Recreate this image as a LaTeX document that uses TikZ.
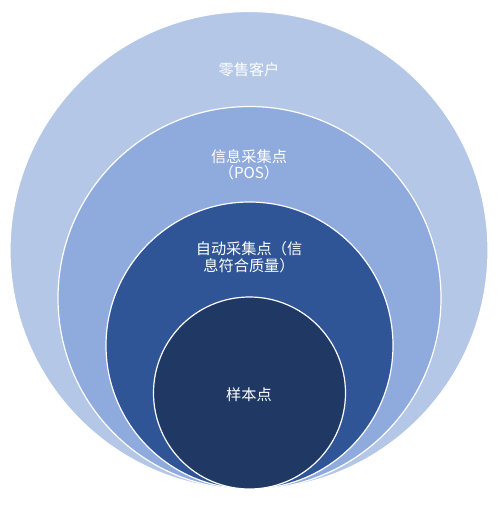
\documentclass[tikz,border=0pt]{standalone}
\usepackage{fontspec}
\newfontfamily\cjk{Noto Sans CJK SC}
\definecolor{c1}{HTML}{B4C7E7}
\definecolor{c2}{HTML}{8FAADC}
\definecolor{c3}{HTML}{2F5597}
\definecolor{c4}{HTML}{203864}
\tikzset{
  ring/.style={circle, draw=white, line width=1.2pt, inner sep=0pt},
  lbl/.style={text=white, font=\cjk\fontsize{15.2}{16.5}\selectfont, align=center}
}
\begin{document}
\begin{tikzpicture}[x=1pt,y=-1pt]
\useasboundingbox (0,0) rectangle (500,514);
\node[ring, fill=c1, minimum size=478pt] (outer) at (249,250.5) {};
\node[ring, fill=c2, minimum size=383pt] (pos) at (249.5,298) {};
\node[ring, fill=c3, minimum size=287pt] (auto) at (249.5,345.5) {};
\node[ring, fill=c4, minimum size=192pt] (sample) at (249.5,393) {};
\node[lbl] (t1) at (249,70) {零售客户};
\node[lbl] (t2) at (249,165) {信息采集点\\（POS）};
\node[lbl] (t3) at (249,257) {自动采集点（信\\息符合质量）};
\node[lbl] (t4) at (249,395) {样本点};
\end{tikzpicture}
\end{document}
